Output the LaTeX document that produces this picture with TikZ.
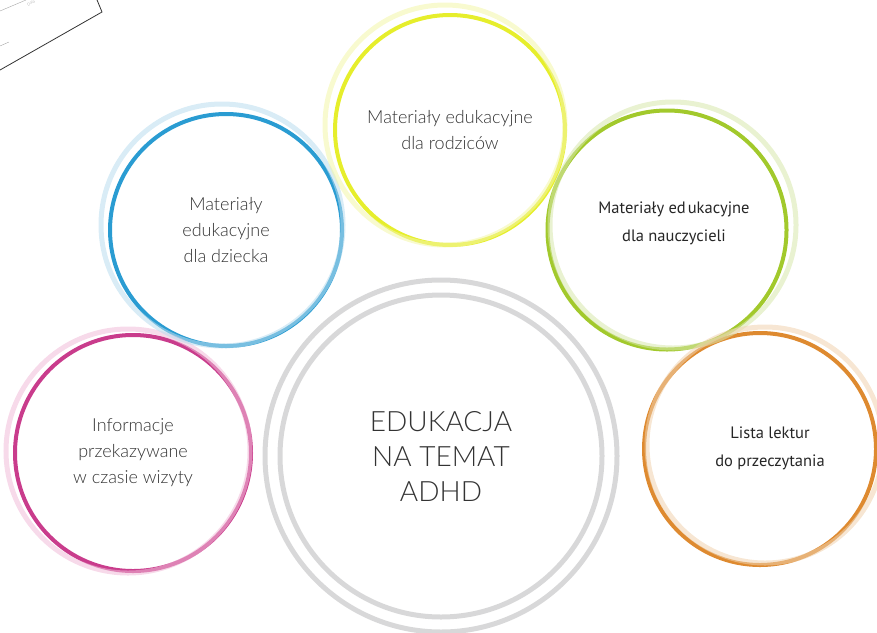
\documentclass[tikz,border=0pt]{standalone}
\usepackage{fontspec}
\setmainfont{Lato}[UprightFont=* Light]
\newfontfamily\pixfont{PT Sans}
\usetikzlibrary{calc}
\definecolor{txtgray}{HTML}{333333}
\definecolor{ringgray}{HTML}{D8D8D9}
\definecolor{ringblue}{HTML}{2A9CD2}
\definecolor{haloblue}{HTML}{B9DCEE}
\definecolor{ringyellow}{HTML}{E6EE2C}
\definecolor{haloyellow}{HTML}{F3F6A8}
\definecolor{ringgreen}{HTML}{A2C92C}
\definecolor{halogreen}{HTML}{D7E7AC}
\definecolor{ringorange}{HTML}{DE8A30}
\definecolor{haloorange}{HTML}{F0D2AE}
\definecolor{ringpink}{HTML}{C93C8C}
\definecolor{halopink}{HTML}{F0BCD8}
\tikzset{
  bubble/.style={circle, draw, line width=4pt, inner sep=0pt,
                 align=center, text=txtgray,
                 font=\fontsize{18}{26}\selectfont},
  pixtext/.style={align=center, text=black!85, inner sep=0pt,
                  font=\pixfont\fontsize{16.5}{28}\selectfont},
  halo/.style={line width=5pt, opacity=0.55},
  hub/.style={bubble, draw=ringgray, line width=5pt,
              font=\fontsize{28}{35}\selectfont},
}

\begin{document}
\begin{tikzpicture}[x=1pt, y=-1pt]
  \useasboundingbox (0,0) rectangle (877,632);

  % sheet corner at the top left
  \draw[black!80, line width=0.8pt] (-10,75.7) -- (102,12) -- (95,-5);
  \draw[black!35, line width=0.4pt] (0,11) -- (26,0);
  \draw[black!35, line width=0.4pt] (0,46) -- (9,42);
  \node[rotate=28, text=black!45, font=\fontsize{4}{4}\selectfont] (corner) at (31,3) {Data};

  % centre
  \node[hub, minimum size=322pt] (adhd) at (441,456)
    {EDUKACJA\\NA TEMAT\\ADHD};
  \draw[ringgray, line width=5pt] (adhd.center) circle (176pt);

  % topics round the centre
  \node[bubble, draw=ringpink, minimum size=236pt] (wizyta) at (133,453)
    {Informacje\\przekazywane\\w czasie wizyty};
  \node[bubble, draw=ringblue, minimum size=232pt] (dziecko) at (226,230)
    {Materiały\\edukacyjne\\dla dziecka};
  \node[bubble, draw=ringyellow, minimum size=230pt] (rodzice) at (450,130)
    {Materiały edukacyjne\\dla rodziców};
  \node[bubble, draw=ringgreen, minimum size=239pt] (nauczyciele) at (667,230) {};
  \node[pixtext] (nauczyciele-txt) at ($(nauczyciele.center)+(7,-7)$)
    {Materiały ed\hspace{2pt}ukacyjne\\dla nauczycieli};
  \node[bubble, draw=ringorange, minimum size=232pt] (lektury) at (760,449) {};
  \node[pixtext] (lektury-txt) at ($(lektury.center)+(10,-1)$)
    {Lista lektur\\do przeczytania};

  % faint second rings
  \draw[halo, halopink] ($(wizyta.center)+(-5,-2)$) circle (122pt);
  \draw[halo, haloblue] ($(dziecko.center)+(-4,-5)$) circle (121pt);
  \draw[halo, haloyellow] ($(rodzice.center)+(-5,-5)$) circle (120pt);
  \draw[halo, halogreen] ($(nauczyciele.center)+(6,-5)$) circle (123pt);
  \draw[halo, haloorange] ($(lektury.center)+(5,-4)$) circle (118pt);
\end{tikzpicture}
\end{document}
